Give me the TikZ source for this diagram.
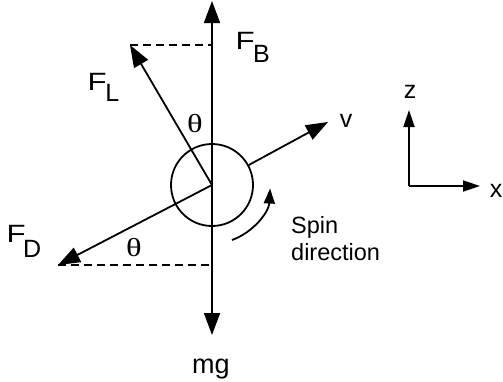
\documentclass[tikz,border=0pt]{standalone}
\usepackage{graphicx}
\usepackage{fontspec}
\setmainfont{Liberation Sans}
\newfontfamily\thetafont{Liberation Serif}
\usetikzlibrary{arrows.meta}
\newcommand\lowsub[2][13pt]{\lower#1\hbox{#2}}
\newcommand\wideF{\scalebox{1.25}[1]{F}}
\newcommand\widetheta{\scalebox{1.25}[1]{θ}}
\begin{document}
\begin{tikzpicture}[x=1pt,y=-1pt,
 lbl/.style={inner sep=0pt, font=\fontsize{25}{27}\selectfont},
 note/.style={inner sep=0pt, font=\fontsize{23.5}{27}\selectfont},
 ang/.style={inner sep=0pt, font=\thetafont\fontsize{26}{27}\selectfont},
 force/.style={line width=1.8pt, -{Triangle[length=22pt,width=16pt]}},
 axis/.style={line width=1.8pt, -{Triangle[length=17pt,width=11pt]}},
 guide/.style={line width=1.5pt, dash pattern=on 8pt off 5pt},
 spinarrow/.style={line width=1.8pt, -{Triangle[length=15pt,width=11pt]}}]
\useasboundingbox (0,0) rectangle (503,381);
\coordinate (O) at (212,185);
\node[draw, circle, line width=1.8pt, minimum size=82pt, inner sep=0pt] (ball) at (O) {};
\coordinate (tB) at (212,1);
\coordinate (tG) at (212,335);
\coordinate (tL) at (130,45);
\coordinate (tD) at (58,265);
\coordinate (tV) at (328,122);
\coordinate (hL) at (212,45);
\coordinate (hD) at (212,265);
\draw[force] (O) -- (tB);
\draw[force] (O) -- (tG);
\draw[force] (O) -- (tL);
\draw[force] (O) -- (tD);
\draw[force] (ball) -- (tV);
\draw[guide] (tL) -- (hL);
\draw[guide] (tD) -- (hD);
\coordinate (s0) at (232,240);
\draw[spinarrow] (s0) arc[start angle=70, end angle=3, radius=58];
\coordinate (ax) at (409,186);
\coordinate (az) at (409,110);
\coordinate (axx) at (480,186);
\draw[axis] (ax) -- (az);
\draw[axis] (ax) -- (axx);
\node[lbl, anchor=base west] (lB) at (235.4,49) {\wideF\kern-1.5pt\lowsub{B}};
\node[lbl, anchor=base west] (lL) at (87.4,90) {\wideF\kern-1.3pt\lowsub[11pt]{L}};
\node[lbl, anchor=base west] (lD) at (6.4,242) {\wideF\kern-2.5pt\lowsub[15pt]{D}};
\node[ang] (th1) at (195,124) {\widetheta};
\node[ang] (th2) at (134,248) {\widetheta};
\node[lbl, anchor=base, font=\fontsize{27}{27}\selectfont] (lmg) at (211,373) {mg};
\node[lbl, anchor=base] (lv) at (346,127) {v};
\node[lbl, anchor=base] (lz) at (410,98) {z};
\node[lbl, anchor=base east] (lx) at (502.5,197) {x};
\node[note, anchor=base west] (sp1) at (291,233) {Spin};
\node[note, anchor=base west] (sp2) at (291,260) {direction};
\end{tikzpicture}
\end{document}
